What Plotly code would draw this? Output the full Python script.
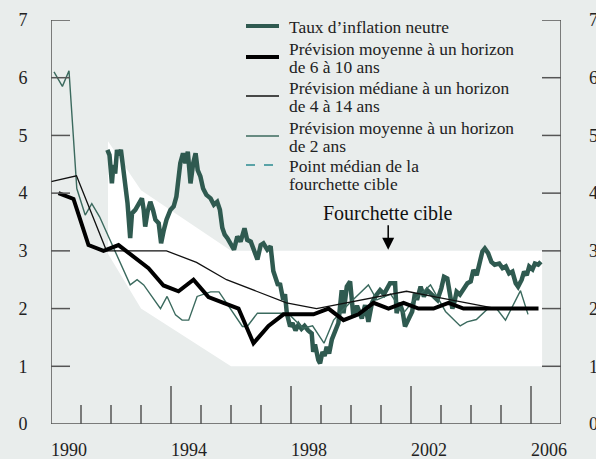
import plotly.graph_objects as go

# ---------------- data ----------------
band_x = [1991.9, 1993.0, 1996.0, 2006.37]
band_top = [4.9, 4.05, 3.0, 3.0]
band_bottom = [2.95, 2.0, 1.0, 1.0]

neutral_x = [1991.88, 1991.95, 1992.03, 1992.08, 1992.14, 1992.20, 1992.25, 1992.33, 1992.40, 1992.47,
             1992.55, 1992.64, 1992.70, 1992.81, 1992.92, 1993.03, 1993.09, 1993.14, 1993.22, 1993.31,
             1993.40, 1993.48, 1993.59, 1993.67, 1993.76, 1993.85, 1993.98, 1994.09, 1994.18, 1994.26,
             1994.31, 1994.40, 1994.48, 1994.56, 1994.65, 1994.74, 1994.82, 1994.89, 1994.98, 1995.07,
             1995.18, 1995.32, 1995.43, 1995.54, 1995.63, 1995.71, 1995.79, 1995.88, 1995.99, 1996.10,
             1996.21, 1996.32, 1996.45, 1996.54, 1996.66, 1996.77, 1996.88, 1996.99, 1997.08, 1997.21,
             1997.32, 1997.41, 1997.49, 1997.57, 1997.63, 1997.74, 1997.80, 1997.86, 1997.97, 1998.05,
             1998.15, 1998.25, 1998.35, 1998.45, 1998.57, 1998.69, 1998.74, 1998.80, 1998.91, 1998.97,
             1999.05, 1999.12, 1999.19, 1999.27, 1999.36, 1999.47, 1999.58, 1999.69, 1999.75, 1999.86,
             1999.97, 2000.08, 2000.20, 2000.36, 2000.47, 2000.58, 2000.70, 2000.81, 2000.97, 2001.10,
             2001.30, 2001.47, 2001.52, 2001.62, 2001.72, 2001.80, 2001.93, 2002.04, 2002.13, 2002.20,
             2002.32, 2002.43, 2002.54, 2002.65, 2002.77, 2002.88, 2003.01, 2003.10, 2003.21, 2003.30,
             2003.38, 2003.45, 2003.52, 2003.63, 2003.74, 2003.88, 2003.99, 2004.08, 2004.19, 2004.27,
             2004.38, 2004.46, 2004.57, 2004.68, 2004.79, 2004.94, 2005.05, 2005.16, 2005.27, 2005.38,
             2005.49, 2005.57, 2005.69, 2005.77, 2005.86, 2005.94, 2006.05, 2006.13, 2006.24, 2006.33]
neutral_y = [4.75, 4.66, 4.17, 4.49, 4.34, 4.75, 4.66, 4.75, 4.46, 4.14,
             3.83, 3.22, 3.65, 3.71, 3.83, 3.91, 3.71, 3.42, 3.68, 3.85,
             3.71, 3.54, 3.48, 3.13, 3.36, 3.54, 3.71, 3.77, 3.94, 4.23,
             4.52, 4.69, 4.52, 4.72, 4.17, 4.52, 4.69, 4.40, 4.29, 4.08,
             3.97, 3.91, 3.80, 3.85, 3.71, 3.40, 3.28, 3.22, 3.13, 3.02,
             3.25, 3.16, 3.39, 3.19, 3.16, 3.00, 2.85, 3.10, 3.13, 3.02,
             3.08, 2.65, 2.50, 2.40, 2.44, 2.15, 2.25, 1.92, 1.69, 1.75,
             1.62, 1.72, 1.65, 1.70, 1.62, 1.57, 1.25, 1.38, 1.11, 1.05,
             1.25, 1.18, 1.34, 1.22, 1.46, 1.63, 1.75, 2.32, 1.92, 2.38,
             2.47, 1.86, 2.05, 1.83, 2.06, 1.77, 2.10, 2.21, 2.32, 2.25,
             2.44, 2.44, 1.92, 2.10, 1.95, 1.69, 1.85, 1.95, 2.26, 2.15,
             2.38, 2.21, 2.32, 2.26, 2.21, 2.15, 2.35, 2.55, 2.52, 2.29,
             2.00, 2.12, 2.29, 2.24, 2.32, 2.44, 2.47, 2.67, 2.58, 2.78,
             2.99, 3.04, 2.96, 2.81, 2.76, 2.78, 2.70, 2.73, 2.61, 2.64,
             2.44, 2.38, 2.50, 2.64, 2.58, 2.73, 2.68, 2.78, 2.76, 2.81]

mean610_x = [1990.25, 1990.75, 1991.25, 1991.75, 1992.25, 1992.75, 1993.25, 1993.75, 1994.25, 1994.75,
             1995.25, 1995.75, 1996.25, 1996.75, 1997.25, 1997.75, 1998.25, 1998.75, 1999.25, 1999.75,
             2000.25, 2000.75, 2001.25, 2001.75, 2002.25, 2002.75, 2003.25, 2003.75, 2004.25, 2004.75,
             2005.25, 2005.75, 2006.25]
mean610_y = [4.0, 3.9, 3.1, 3.0, 3.1, 2.9, 2.7, 2.4, 2.3, 2.5,
             2.2, 2.1, 2.0, 1.4, 1.7, 1.9, 1.9, 1.9, 2.0, 1.8,
             1.9, 2.1, 2.0, 2.1, 2.0, 2.0, 2.1, 2.0, 2.0, 2.0,
             2.0, 2.0, 2.0]

median414_x = [1990.0, 1990.85, 1991.85, 1992.85, 1993.85, 1994.85, 1995.85, 1996.85, 1997.85, 1998.85,
               1999.85, 2000.85, 2001.85, 2002.85, 2003.85, 2004.85, 2005.85]
median414_y = [4.2, 4.3, 3.0, 3.0, 3.0, 2.8, 2.5, 2.3, 2.1, 2.0,
               2.1, 2.2, 2.3, 2.2, 2.1, 2.0, 2.0]

mean2_x = [1990.10, 1990.38, 1990.60, 1990.86, 1991.14, 1991.36, 1991.62, 1992.64, 1992.87, 1993.09,
           1993.65, 1993.87, 1994.15, 1994.37, 1994.59, 1994.87, 1995.32, 1995.60, 1996.38, 1996.54,
           1996.88, 1997.90, 1998.40, 1998.72, 1999.10, 1999.42, 1999.72, 2000.00, 2000.58, 2000.86,
           2001.32, 2001.75, 2002.10, 2002.65, 2003.15, 2003.64, 2003.87, 2004.18, 2004.57, 2004.85,
           2005.15, 2005.65, 2005.90]
mean2_y = [6.10, 5.85, 6.12, 4.08, 3.62, 3.82, 3.59, 2.41, 2.50, 2.41,
           2.00, 2.21, 1.89, 1.80, 1.80, 2.21, 2.29, 2.29, 1.69, 1.69,
           1.92, 1.92, 1.66, 1.70, 1.40, 1.80, 1.97, 2.12, 2.41, 2.15,
           2.25, 1.92, 2.15, 2.41, 1.95, 1.70, 1.77, 1.81, 2.00, 2.00,
           1.80, 2.31, 1.90]

year_labels = ["1990", "1994", "1998", "2002", "2006"]
label_pos = [1990.6, 1994.6, 1998.6, 2002.6, 2006.6]
major_ticks = [1994, 1998, 2002, 2006]
minor_ticks = list(range(1991, 2007))
y_ticks = [0, 1, 2, 3, 4, 5, 6, 7]
X_RANGE = [1990, 2007]
Y_RANGE = [0, 7]

legend_names = [
    ["Taux d’inflation neutre"],
    ["Prévision moyenne à un horizon", "de 6 à 10 ans"],
    ["Prévision médiane à un horizon", "de 4 à 14 ans"],
    ["Prévision moyenne à un horizon", "de 2 ans"],
    ["Point médian de la", "fourchette cible"],
]

# ---------------- style ----------------
BG = "#e9edec"
TEAL = "#2f5a50"
TEAL_THIN = "#3b6a5e"
DASH = "#2a8a90"
AXC = "#555555"
FONT = "Liberation Serif"
NB = "\u00a0"

W, H = 596, 459
L, R, T, B = 51, 35, 20, 20
AXIS_Y = 424              # pixel row of the x axis
LABEL_AXIS_Y = 437        # pixel row of the label-only axis
PW, PH = W - L - R, H - T - B
PX_PER_YEAR = PW / (X_RANGE[1] - X_RANGE[0])
PX_PER_UNIT = (AXIS_Y - T) / (Y_RANGE[1] - Y_RANGE[0])
MINOR_LEN, MAJOR_LEN, YTICK_LEN = 19, 38, 19

def px(xp):
    return (xp - L) / PW

def py(yp):
    return (H - B - yp) / PH

fig = go.Figure()

fig.add_trace(go.Scatter(
    x=band_x + band_x[::-1], y=band_top + band_bottom[::-1],
    fill="toself", fillcolor="white", mode="lines", line=dict(width=0),
    hoverinfo="skip", showlegend=False))
fig.add_trace(go.Scatter(x=neutral_x, y=neutral_y, mode="lines",
                         line=dict(color=TEAL, width=4.5), showlegend=False))
fig.add_trace(go.Scatter(x=mean2_x, y=mean2_y, mode="lines",
                         line=dict(color=TEAL_THIN, width=1.4), showlegend=False))
fig.add_trace(go.Scatter(x=median414_x, y=median414_y, mode="lines",
                         line=dict(color="#111111", width=1.3), showlegend=False))
fig.add_trace(go.Scatter(x=mean610_x, y=mean610_y, mode="lines",
                         line=dict(color="black", width=4), showlegend=False,
                         xaxis="x2", yaxis="y2"))

tickfont = dict(size=18, family=FONT, color="#222")
fig.update_layout(
    template="none",
    width=W, height=H,
    margin=dict(l=L, r=R, t=T, b=B),
    paper_bgcolor=BG, plot_bgcolor=BG,
    font=dict(family=FONT, size=18, color="#222222"),
    showlegend=False,
    xaxis=dict(range=X_RANGE, showline=False, ticks="", showticklabels=False,
               showgrid=False, zeroline=False, anchor="y"),
    xaxis2=dict(range=X_RANGE, overlaying="x", side="bottom", anchor="free",
                position=py(LABEL_AXIS_Y), showline=False,
                tickmode="array", tickvals=label_pos, ticktext=year_labels, ticks="",
                tickfont=tickfont, showgrid=False, zeroline=False),
    yaxis=dict(range=Y_RANGE, domain=[py(AXIS_Y), 1], showline=False,
               tickmode="array", tickvals=y_ticks, ticktext=[str(v) + NB * 5 for v in y_ticks],
               ticks="", tickfont=tickfont, showgrid=False, zeroline=False),
    yaxis2=dict(range=Y_RANGE, overlaying="y", side="right", anchor="x", showline=False,
                tickmode="array", tickvals=y_ticks, ticktext=[NB * 6 + str(v) for v in y_ticks],
                ticks="", tickfont=tickfont, showgrid=False, zeroline=False),
)

# ---------------- axis lines and tick marks (on the data scales) ----------------
axline = dict(color=AXC, width=1.5)
fig.add_shape(type="line", xref="x", yref="y", x0=X_RANGE[0], x1=X_RANGE[1],
              y0=Y_RANGE[0], y1=Y_RANGE[0], line=axline)
fig.add_shape(type="line", xref="x", yref="y", x0=X_RANGE[0], x1=X_RANGE[0],
              y0=Y_RANGE[0], y1=Y_RANGE[1], line=axline)
fig.add_shape(type="line", xref="x", yref="y", x0=X_RANGE[1], x1=X_RANGE[1],
              y0=Y_RANGE[0], y1=Y_RANGE[1], line=axline)
for yr in minor_ticks:
    ln = MAJOR_LEN if yr in major_ticks else MINOR_LEN
    fig.add_shape(type="line", xref="x", yref="y", x0=yr, x1=yr,
                  y0=Y_RANGE[0], y1=Y_RANGE[0] + ln / PX_PER_UNIT, line=axline)
for v in y_ticks[1:]:
    fig.add_shape(type="line", xref="x", yref="y", x0=X_RANGE[0],
                  x1=X_RANGE[0] + YTICK_LEN / PX_PER_YEAR, y0=v, y1=v, line=axline)
    fig.add_shape(type="line", xref="x", yref="y", x0=X_RANGE[1] - YTICK_LEN / PX_PER_YEAR,
                  x1=X_RANGE[1], y0=v, y1=v, line=axline)

# ---------------- manual legend ----------------
sample_y = [26, 57, 96, 136, 165]
sample_style = [
    dict(color=TEAL, width=4),
    dict(color="black", width=4),
    dict(color="#111111", width=1.5),
    dict(color=TEAL_THIN, width=1.5),
    dict(color=DASH, width=1.5, dash="dash"),
]
text_y = [[27], [49, 67], [88, 106], [128, 146], [166, 184]]
for i in range(5):
    fig.add_shape(type="line", xref="paper", yref="paper",
                  x0=px(246), x1=px(279), y0=py(sample_y[i]), y1=py(sample_y[i]),
                  line=sample_style[i])
    for line_txt, ty in zip(legend_names[i], text_y[i]):
        fig.add_annotation(xref="paper", yref="paper", x=px(287), y=py(ty),
                           text=line_txt, showarrow=False, xanchor="left", yanchor="middle",
                           font=dict(size=17.4, family=FONT, color="#222"))

fig.add_annotation(x=2001.24, y=3.02, xref="x", yref="y", text="Fourchette cible",
                   showarrow=True, ax=0, ay=-37, arrowhead=2, arrowsize=1.6,
                   arrowwidth=1.5, arrowcolor="black",
                   font=dict(size=20, family=FONT, color="#111"))

fig.write_html("out.html", config={"displayModeBar": False},
               post_script="document.body.style.margin='0px';document.body.style.background='#e9edec';")
